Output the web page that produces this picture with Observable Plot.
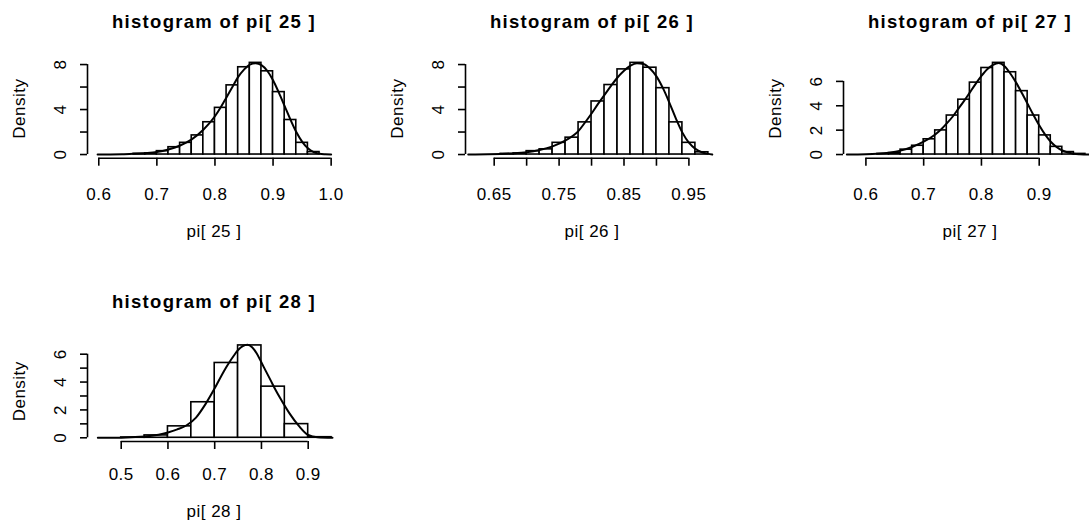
<!DOCTYPE html>
<html>
<head>
<meta charset="utf-8">
<script src="https://cdn.jsdelivr.net/npm/d3@7"></script>
<script src="https://cdn.jsdelivr.net/npm/@observablehq/plot@0.6"></script>
<style>
html, body { margin: 0; padding: 0; background: #fff; overflow: hidden; }
#chart { position: relative; width: 1089px; height: 531px; overflow: hidden; background: #fff; }
#chart svg { position: absolute; }
</style>
</head>
<body>
<div id="chart"></div>
<script>
// ---------- data ----------
const titles = ["histogram of pi[ 25 ]", "histogram of pi[ 26 ]", "histogram of pi[ 27 ]", "histogram of pi[ 28 ]"];
const xLabels = ["pi[ 25 ]", "pi[ 26 ]", "pi[ 27 ]", "pi[ 28 ]"];
const yLabel = "Density";

// pi[25]
const breaks25 = [0.66,0.68,0.70,0.72,0.74,0.76,0.78,0.80,0.82,0.84,0.86,0.88,0.90,0.92,0.94,0.96,0.98];
const heights25 = [0.06,0.10,0.30,0.65,1.04,1.70,2.87,4.15,6.15,7.76,8.15,7.40,5.55,3.07,1.04,0.22];
const curveX25 = [0.598,0.62,0.64,0.66,0.68,0.70,0.72,0.74,0.76,0.78,0.80,0.81,0.82,0.83,0.84,0.85,0.86,0.87,0.88,0.89,0.90,0.91,0.92,0.93,0.94,0.95,0.96,0.97,0.98,0.99,1.0];
const curveY25 = [0,0.01,0.03,0.06,0.12,0.22,0.45,0.80,1.35,2.20,3.40,4.20,5.10,6.00,6.90,7.55,8.00,8.12,7.95,7.45,6.60,5.50,4.30,3.10,2.00,1.15,0.55,0.22,0.07,0.02,0];
const xlim25 = [0.5806, 1.0161];
const xTicks25 = [0.6,0.7,0.8,0.9,1.0];
const xTickLabels25 = ["0.6","0.7","0.8","0.9","1.0"];
const yTicks25 = [0,2,4,6,8];
const yTickLabels25 = ["0","","4","","8"];

// pi[26]
const breaks26 = [0.66,0.68,0.70,0.72,0.74,0.76,0.78,0.80,0.82,0.84,0.86,0.88,0.90,0.92,0.94,0.96,0.98];
const heights26 = [0.06,0.10,0.30,0.46,1.04,1.50,2.86,4.72,6.18,7.57,8.15,7.72,5.90,2.86,1.04,0.20];
const curveX26 = [0.61,0.64,0.66,0.68,0.70,0.72,0.74,0.76,0.78,0.79,0.80,0.81,0.82,0.83,0.84,0.85,0.86,0.87,0.88,0.89,0.90,0.91,0.92,0.93,0.94,0.95,0.96,0.97,0.98,0.986];
const curveY26 = [0,0.02,0.05,0.10,0.20,0.40,0.72,1.25,2.10,2.85,3.65,4.50,5.30,6.10,6.85,7.45,7.90,8.12,8.05,7.65,6.95,5.90,4.60,3.20,1.95,1.05,0.50,0.20,0.06,0];
const xlim26 = [0.6058, 0.9956];
const xTicks26 = [0.65,0.70,0.75,0.80,0.85,0.90,0.95];
const xTickLabels26 = ["0.65","","0.75","","0.85","","0.95"];
const yTicks26 = [0,2,4,6,8];
const yTickLabels26 = ["0","","4","","8"];

// pi[27]
const breaks27 = [0.62,0.64,0.66,0.68,0.70,0.72,0.74,0.76,0.78,0.80,0.82,0.84,0.86,0.88,0.90,0.92,0.94,0.96,0.98];
const heights27 = [0.05,0.12,0.40,0.72,1.25,1.98,3.20,4.50,5.90,7.10,7.52,6.75,5.20,3.20,1.57,0.63,0.20,0.05];
const curveX27 = [0.567,0.60,0.62,0.64,0.66,0.68,0.70,0.72,0.73,0.74,0.75,0.76,0.77,0.78,0.79,0.80,0.81,0.82,0.83,0.84,0.85,0.86,0.87,0.88,0.89,0.90,0.91,0.92,0.93,0.94,0.95,0.96,0.97,0.99];
const curveY27 = [0,0.02,0.06,0.15,0.32,0.62,1.05,1.65,2.05,2.55,3.10,3.75,4.40,5.10,5.80,6.45,7.00,7.35,7.50,7.25,6.65,5.90,5.05,4.15,3.25,2.40,1.65,1.05,0.62,0.33,0.16,0.07,0.03,0];
const xlim27 = [0.5612, 0.9992];
const xTicks27 = [0.6,0.7,0.8,0.9];
const xTickLabels27 = ["0.6","0.7","0.8","0.9"];
const yTicks27 = [0,2,4,6];
const yTickLabels27 = ["0","2","4","6"];

// pi[28]
const breaks28 = [0.50,0.55,0.60,0.65,0.70,0.75,0.80,0.85,0.90,0.95];
const heights28 = [0.02,0.17,0.82,2.55,5.37,6.63,3.67,0.98,0.04];
const curveX28 = [0.45,0.50,0.52,0.54,0.56,0.58,0.60,0.62,0.64,0.66,0.68,0.70,0.72,0.73,0.74,0.75,0.76,0.77,0.78,0.79,0.80,0.81,0.82,0.83,0.84,0.86,0.88,0.90,0.92,0.952];
const curveY28 = [0,0.01,0.03,0.07,0.13,0.22,0.38,0.60,0.90,1.45,2.40,3.55,4.80,5.35,5.85,6.30,6.58,6.68,6.50,6.05,5.40,4.75,4.10,3.45,2.85,1.75,0.85,0.20,0.04,0];
const xlim28 = [0.4279, 0.9691];
const xTicks28 = [0.5,0.6,0.7,0.8,0.9];
const xTickLabels28 = ["0.5","0.6","0.7","0.8","0.9"];
const yTicks28 = [0,1,2,3,4,5,6];
const yTickLabels28 = ["0","","2","","4","","6"];

// ---------- layout ----------
const W = 378, H = 280;
const layout = [
  {left: 0,   top: 0,   pTop: 58.7, pBottom: 157.7},
  {left: 378, top: 0,   pTop: 58.7, pBottom: 157.7},
  {left: 756, top: 0,   pTop: 58.7, pBottom: 157.7},
  {left: 0,   top: 280, pTop: 60.5, pBottom: 161.0}
];

const panels = [
  {title: titles[0], xlab: xLabels[0], breaks: breaks25, heights: heights25, cx: curveX25, cy: curveY25, xlim: xlim25, xt: xTicks25, xtl: xTickLabels25, yt: yTicks25, ytl: yTickLabels25},
  {title: titles[1], xlab: xLabels[1], breaks: breaks26, heights: heights26, cx: curveX26, cy: curveY26, xlim: xlim26, xt: xTicks26, xtl: xTickLabels26, yt: yTicks26, ytl: yTickLabels26},
  {title: titles[2], xlab: xLabels[2], breaks: breaks27, heights: heights27, cx: curveX27, cy: curveY27, xlim: xlim27, xt: xTicks27, xtl: xTickLabels27, yt: yTicks27, ytl: yTickLabels27},
  {title: titles[3], xlab: xLabels[3], breaks: breaks28, heights: heights28, cx: curveX28, cy: curveY28, xlim: xlim28, xt: xTicks28, xtl: xTickLabels28, yt: yTicks28, ytl: yTickLabels28}
];

const FONT = "'Liberation Sans', Arial, Helvetica, sans-serif";
const FS = 17;

function makePanel(p, L) {
  const bars = p.heights.map((h, i) => ({x1: p.breaks[i], x2: p.breaks[i + 1], y: h}));
  const curve = p.cx.map((x, i) => ({x, y: p.cy[i]}));
  const M = d3.max(p.heights.concat(p.cy));
  const ylim = [-0.04 * M, 1.04 * M];
  const xMap = new Map(p.xt.map((t, i) => [t, p.xtl[i]]));
  const yMap = new Map(p.yt.map((t, i) => [t, p.ytl[i]]));
  const lw = 1.6;
  const svg = Plot.plot({
    width: W, height: H,
    marginLeft: 87, marginRight: 38,
    marginTop: L.pTop, marginBottom: H - L.pBottom,
    x: {domain: p.xlim, label: null},
    y: {domain: ylim, label: null},
    style: {fontFamily: FONT, fontSize: FS + "px", background: "white", color: "black", overflow: "visible", letterSpacing: "0.5px"},
    marks: [
      Plot.rectY(bars, {x1: "x1", x2: "x2", y1: 0, y2: "y", fill: "white", stroke: "black", strokeWidth: lw}),
      Plot.line(curve, {x: "x", y: "y", stroke: "black", strokeWidth: 2, curve: "monotone-x"}),
      // x axis line (first to last tick, at bottom of plot region)
      Plot.ruleY([ylim[0]], {x1: p.xt[0], x2: p.xt[p.xt.length - 1], stroke: "black", strokeWidth: lw}),
      // y axis line (0 to last tick, at left of plot region)
      Plot.ruleX([p.xlim[0]], {y1: p.yt[0], y2: p.yt[p.yt.length - 1], stroke: "black", strokeWidth: lw}),
      Plot.axisX({ticks: p.xt, tickFormat: d => xMap.get(d), tickSize: 8, tickPadding: 187 - L.pBottom - 8, label: null, fontSize: FS, strokeWidth: lw, stroke: "black", fill: "black"}),
      Plot.axisY({ticks: p.yt, tickFormat: d => yMap.get(d), tickSize: 7, tickPadding: 15, tickRotate: -90, textAnchor: "middle", lineAnchor: "bottom", label: null, fontSize: FS, strokeWidth: lw, stroke: "black", fill: "black"}),
      Plot.text([p.title], {frameAnchor: "top", dy: 27 - L.pTop, lineAnchor: "bottom", textAnchor: "middle", fontWeight: "bold", fontSize: 18.5, fill: "black"}),
      Plot.text([p.xlab], {frameAnchor: "bottom", dy: 236 - L.pBottom, lineAnchor: "bottom", textAnchor: "middle", fontSize: FS, fill: "black"}),
      Plot.text([yLabel], {frameAnchor: "left", dx: 24 - 87, rotate: -90, lineAnchor: "bottom", textAnchor: "middle", fontSize: FS, fill: "black"})
    ]
  });
  svg.style.left = L.left + "px";
  svg.style.top = L.top + "px";
  d3.select(svg).selectAll("g[font-weight='bold'] text, g[font-weight='bold']").style("letter-spacing", "1.3px");
  return svg;
}

const chart = document.getElementById("chart");
panels.forEach((p, i) => chart.appendChild(makePanel(p, layout[i])));
</script>
</body>
</html>
